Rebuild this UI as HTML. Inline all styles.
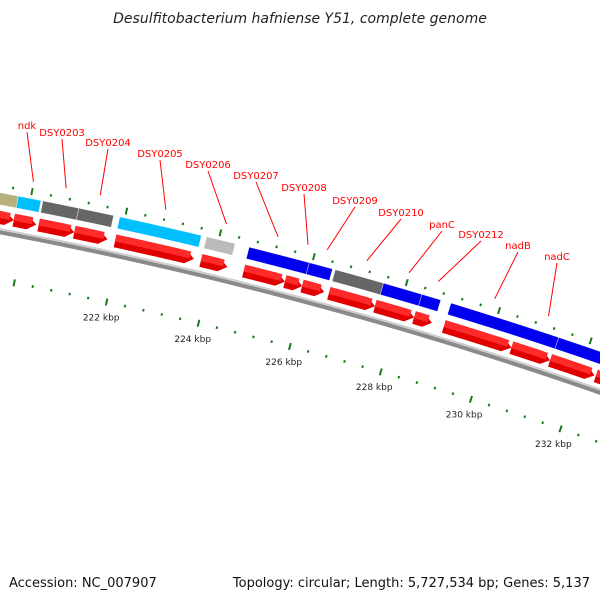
<!DOCTYPE html>
<html><head><meta charset="utf-8"><style>
html,body{margin:0;padding:0;background:#fff;}
svg{display:block;font-family:"DejaVu Sans","Liberation Sans",sans-serif;}
</style></head><body>
<svg id="map" width="600" height="600" viewBox="0 0 600 600">
<text x="300" y="23" text-anchor="middle" font-size="14" font-style="italic" fill="#222">Desulfitobacterium hafniense Y51, complete genome</text>
<text x="9" y="587" font-size="13" fill="#111">Accession: NC_007907</text>
<text x="590" y="587" font-size="13" fill="#111" text-anchor="end">Topology: circular; Length: 5,727,534 bp; Genes: 5,137</text>
<g id="layer"></g>
</svg>
<script>
// ---- data (kbp) ----
const topStarts = [218.9, 219.74, 220.26, 221.02, 221.89, 223.74, 224.65, 225.94, 226.50, 227.54, 228.37, 229.00, 231.35];
const topEnds   = [219.74, 220.22, 221.02, 221.76, 223.63, 224.35, 225.94, 226.44, 227.54, 228.37, 228.78, 231.35, 233.5];
const topColors = ['#b8b07a','#00bfff','#666666','#666666','#00bfff','#bbbbbb','#0000ee','#0000ee','#666666','#0000ee','#0000ee','#0000ee','#0000ee'];
const cdsStarts = [218.9, 219.74, 220.27, 221.03, 221.90, 223.74, 224.66, 225.55, 225.92, 226.50, 227.50, 228.35, 229.00, 230.48, 231.33, 232.34];
const cdsEnds   = [219.74, 220.22, 221.03, 221.74, 223.59, 224.31, 225.55, 225.92, 226.40, 227.50, 228.35, 228.74, 230.48, 231.33, 232.31, 233.3];
const tickLabels = [222, 224, 226, 228, 230, 232];
const geneNames = ['ndk','DSY0203','DSY0204','DSY0205','DSY0206','DSY0207','DSY0208','DSY0209','DSY0210','panC','DSY0212','nadB','nadC'];
const geneAnchors = [219.99, 220.68, 221.40, 222.79, 224.08, 225.18, 225.82, 226.23, 227.08, 227.99, 228.62, 229.84, 231.01];
const labelX = [27, 62, 108, 160, 208, 256, 304, 355, 401, 442, 481, 518, 557];
const labelY = [129, 136, 146, 157, 168, 179, 191, 204, 216, 228, 238, 249, 260];

// ---- geometry ----
const CX = -773, CY = 4326, R0 = 4167;
const TH222 = 12.33, K = 0.656;
function ang(kbp){ return (TH222 + (kbp - 222) * K) * Math.PI / 180; }
function pt(kbp, r){ const t = ang(kbp); return [CX + r * Math.sin(t), CY - r * Math.cos(t)]; }
const NS = 'http://www.w3.org/2000/svg';
const layer = document.getElementById('layer');
function mk(tag, attrs){ const e = document.createElementNS(NS, tag); for (const k in attrs) e.setAttribute(k, attrs[k]); layer.appendChild(e); return e; }
function band(s, e, r1, r2, arrow){
  const n = 30, pts = [];
  const head = arrow ? Math.min(0.18, (e - s) * 0.45) : 0;
  const eb = e - head;
  for (let i = 0; i <= n; i++){ pts.push(pt(s + (eb - s) * i / n, r2)); }
  if (arrow) pts.push(pt(e, (r1 + r2) / 2));
  for (let i = n; i >= 0; i--){ pts.push(pt(s + (eb - s) * i / n, r1)); }
  return pts.map(p => p[0].toFixed(2) + ',' + p[1].toFixed(2)).join(' ');
}

// backbone
let e = mk('polygon', {points: band(218.5, 234, R0 - 3, R0 + 3, false), fill: '#8a8a8a'});


e = mk('polygon', {points: band(218.5, 234, R0 + 1, R0 + 3, false), fill: '#cfcfcf'});



// CDS arrows
for (let i = 0; i < cdsStarts.length; i++){
  const g = mk('polygon', {points: band(cdsStarts[i], cdsEnds[i], R0 + 7, R0 + 20, true), fill: '#e00000'});
  
  
  const h = mk('polygon', {points: band(cdsStarts[i], cdsEnds[i] - 0.09, R0 + 13, R0 + 20, false), fill: '#ff2a2a'});
  
  
}
// top features
for (let i = 0; i < topStarts.length; i++){
  const g = mk('polygon', {points: band(topStarts[i], topEnds[i], R0 + 26, R0 + 38, false), fill: topColors[i], stroke: '#ffffff', 'stroke-width': 0.4});
  
  
}

// ticks
for (let k = 2184; k <= 2340; k += 4){
  const kb = k / 10;
  const major = (k % 20 === 0);
  const len = major ? 7 : 2.5;
  const ro = R0 + 45, ri = R0 - 48;
  const a1 = pt(kb, ro - len / 2), a2 = pt(kb, ro + len / 2);
  let t = mk('line', {x1: a1[0], y1: a1[1], x2: a2[0], y2: a2[1], stroke: '#1a7a1a', 'stroke-width': 2});
  
  
  const b1 = pt(kb, ri - len / 2), b2 = pt(kb, ri + len / 2);
  t = mk('line', {x1: b1[0], y1: b1[1], x2: b2[0], y2: b2[1], stroke: '#1a7a1a', 'stroke-width': 2});
  
  
}
for (let i = 0; i < tickLabels.length; i++){
  const p = pt(tickLabels[i], R0 - 64);
  const t = mk('text', {x: p[0] - 2, y: p[1] + 3, 'font-size': 9, fill: '#222', 'text-anchor': 'middle'});
  t.textContent = tickLabels[i] + ' kbp';
  
  
}

// gene labels
for (let i = 0; i < geneNames.length; i++){
  const p = pt(geneAnchors[i], R0 + 55);
  let l = mk('line', {x1: labelX[i], y1: labelY[i] + 3, x2: p[0], y2: p[1], stroke: '#ff0000', 'stroke-width': 1});
  
  
  const t = mk('text', {x: labelX[i], y: labelY[i], 'font-size': 10, fill: '#ff0000', 'text-anchor': 'middle'});
  t.textContent = geneNames[i];
  
  
}
</script>
</body></html>
